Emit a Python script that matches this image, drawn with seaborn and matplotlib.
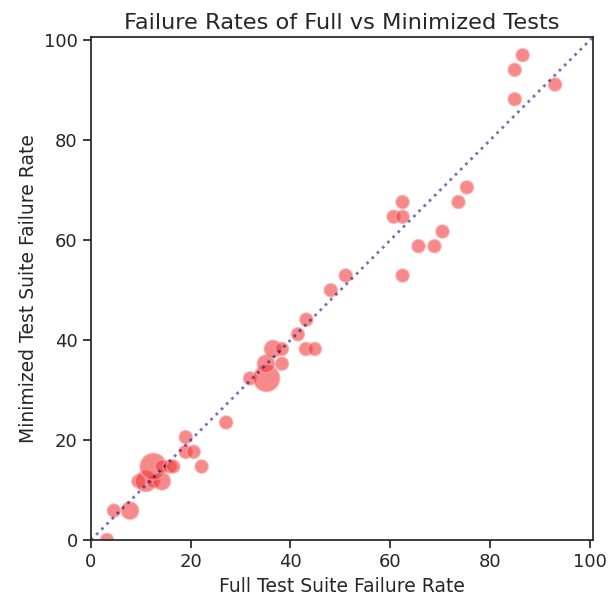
import matplotlib
matplotlib.use("Agg")
import matplotlib.pyplot as plt
import seaborn as sns
import pandas as pd

full_rate = [3.2, 4.6, 7.8, 9.5, 11.0, 12.5, 14.2, 12.5, 14.2, 15.8, 16.5,
             19.0, 20.6, 19.0, 22.2, 27.1, 31.9, 35.2, 35.1, 38.3, 36.5, 38.3,
             43.1, 44.9, 41.5, 43.2, 48.1, 51.1, 62.5, 60.7, 62.5, 62.5, 65.7,
             68.9, 70.5, 73.7, 75.4, 86.6, 85.0, 93.1, 85.0]
min_rate = [0.0, 5.88, 5.88, 11.76, 11.76, 11.76, 11.76, 14.71, 14.71, 14.71, 14.71,
            17.65, 17.65, 20.59, 14.71, 23.53, 32.35, 32.35, 35.29, 35.29, 38.24, 38.24,
            38.24, 38.24, 41.18, 44.12, 50.0, 52.94, 67.65, 64.71, 64.71, 52.94, 58.82,
            58.82, 61.76, 67.65, 70.59, 97.06, 94.12, 91.18, 88.24]
n_tests = [1, 1, 2, 1, 3, 1, 2, 5, 1, 1, 1,
           1, 1, 1, 1, 1, 1, 5, 2, 1, 2, 1,
           1, 1, 1, 1, 1, 1, 1, 1, 1, 1, 1,
           1, 1, 1, 1, 1, 1, 1, 1]

df = pd.DataFrame({"full": full_rate, "minimized": min_rate, "n": n_tests})

sns.set_theme(style="ticks")
fig = plt.figure(figsize=(6.15, 5.96), dpi=100)
ax = fig.add_axes([91/615, 56/596, 502/615, 503/596])

sns.scatterplot(data=df, x="full", y="minimized", size="n", sizes=(95, 370),
                color="#f03c3c", alpha=0.6, edgecolor="#ffb0b0", linewidth=1.0,
                legend=False, ax=ax)
ax.axline((0, 0), slope=1, color="navy", alpha=0.55, ls=":", lw=2)

ax.set_xlim(0, 100.7)
ax.set_ylim(0, 100.7)
ax.set_xticks([0, 20, 40, 60, 80, 100])
ax.set_yticks([0, 20, 40, 60, 80, 100])
ax.tick_params(labelsize=13)
ax.set_xlabel("Full Test Suite Failure Rate", fontsize=13.5)
ax.set_ylabel("Minimized Test Suite Failure Rate", fontsize=13.5)
ax.set_title("Failure Rates of Full vs Minimized Tests", fontsize=16.2)

fig.savefig("out.png", dpi=100)
